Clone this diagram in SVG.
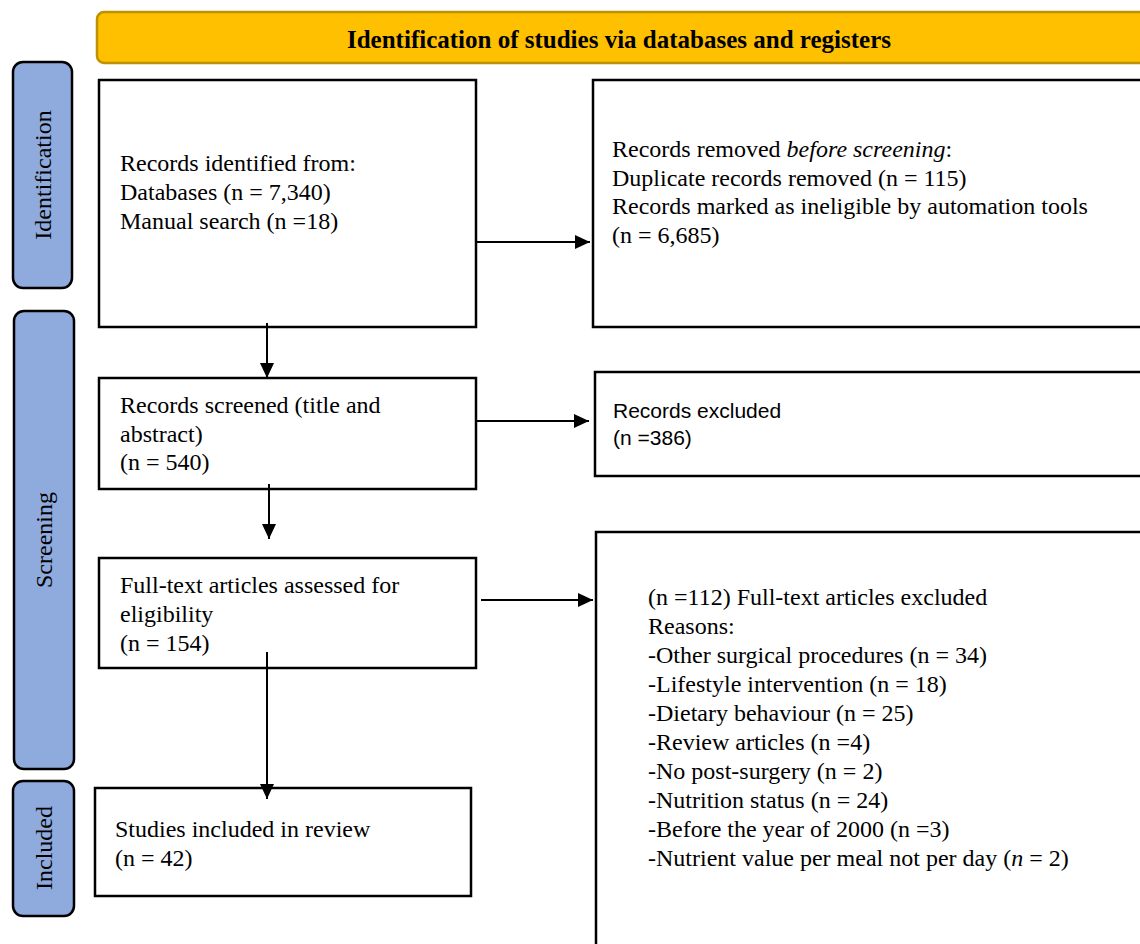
<svg xmlns="http://www.w3.org/2000/svg" width="1140" height="944" viewBox="0 0 1140 944">
<style>
.box{fill:#fff;stroke:#000;stroke-width:2.5}
.side{fill:#8FAADC;stroke:#000;stroke-width:2.5}
.hdr{fill:#FFC000;stroke:#BF9000;stroke-width:2.5}
.t{font-family:"Liberation Serif","Times New Roman",serif;font-size:24px;fill:#000}
.s{font-family:"Liberation Sans",Arial,sans-serif;font-size:21px;fill:#000}
.title{font-family:"Liberation Serif","Times New Roman",serif;font-size:25px;font-weight:bold;fill:#000}
.lbl{font-family:"Liberation Serif","Times New Roman",serif;font-size:24px;fill:#000}
.c{fill:none;stroke:#000;stroke-width:2}
</style>
<defs>
<marker id="ah" markerUnits="userSpaceOnUse" markerWidth="15" markerHeight="14" refX="15" refY="7" orient="auto">
<path d="M0,0 L15,7 L0,14 Z" fill="#000"/>
</marker>
</defs>
<rect width="1140" height="944" fill="#fff"/>

<g id="header">
<rect class="hdr" x="97" y="12" width="1060" height="51" rx="7"/>
<text class="title" x="619" y="48" text-anchor="middle">Identification of studies via databases and registers</text>
</g>

<g id="side-identification">
<rect class="side" x="13" y="62" width="59" height="226" rx="10"/>
<text class="lbl" transform="translate(51,175) rotate(-90)" text-anchor="middle">Identification</text>
</g>
<g id="side-screening">
<rect class="side" x="14" y="311" width="60" height="458" rx="10"/>
<text class="lbl" transform="translate(52,540) rotate(-90)" text-anchor="middle">Screening</text>
</g>
<g id="side-included">
<rect class="side" x="13" y="781" width="61" height="135" rx="10"/>
<text class="lbl" transform="translate(52,848) rotate(-90)" text-anchor="middle">Included</text>
</g>

<g id="records-identified">
<rect class="box" x="99" y="80" width="377" height="247"/>
<text class="t" x="120" y="171">Records identified from:</text>
<text class="t" x="120" y="200">Databases (n = 7,340)</text>
<text class="t" x="120" y="229">Manual search (n =18)</text>
</g>

<g id="records-removed">
<rect class="box" x="593" y="80" width="560" height="247"/>
<text class="t" x="612" y="157">Records removed <tspan font-style="italic">before screening</tspan>:</text>
<text class="t" x="612" y="186">Duplicate records removed (n = 115)</text>
<text class="t" x="612" y="214">Records marked as ineligible by automation tools</text>
<text class="t" x="612" y="243">(n = 6,685)</text>
</g>

<g id="records-screened">
<rect class="box" x="99" y="378" width="377" height="111"/>
<text class="t" x="120" y="413">Records screened (title and</text>
<text class="t" x="120" y="442">abstract)</text>
<text class="t" x="120" y="470">(n = 540)</text>
</g>

<g id="records-excluded">
<rect class="box" x="595" y="372" width="560" height="104"/>
<text class="s" x="613" y="418">Records excluded</text>
<text class="s" x="613" y="445">(n =386)</text>
</g>

<g id="full-text-assessed">
<rect class="box" x="99" y="558" width="377" height="110"/>
<text class="t" x="120" y="593">Full-text articles assessed for</text>
<text class="t" x="120" y="622">eligibility</text>
<text class="t" x="120" y="651">(n = 154)</text>
</g>

<g id="full-text-excluded">
<rect class="box" x="596" y="532" width="560" height="430"/>
<text class="t" x="648" y="605">(n =112) Full-text articles excluded</text>
<text class="t" x="648" y="634">Reasons:</text>
<text class="t" x="648" y="663">-Other surgical procedures (n = 34)</text>
<text class="t" x="648" y="692">-Lifestyle intervention (n = 18)</text>
<text class="t" x="648" y="721">-Dietary behaviour (n = 25)</text>
<text class="t" x="648" y="750">-Review articles (n =4)</text>
<text class="t" x="648" y="779">-No post-surgery (n = 2)</text>
<text class="t" x="648" y="808">-Nutrition status (n = 24)</text>
<text class="t" x="648" y="837">-Before the year of 2000 (n =3)</text>
<text class="t" x="648" y="866">-Nutrient value per meal not per day (<tspan font-style="italic">n</tspan> = 2)</text>
</g>

<g id="studies-included">
<rect class="box" x="95" y="788" width="376" height="108"/>
<text class="t" x="115" y="837">Studies included in review</text>
<text class="t" x="115" y="866">(n = 42)</text>
</g>

<g id="connectors">
<line class="c" x1="477" y1="242" x2="590" y2="242" marker-end="url(#ah)"/>
<line class="c" x1="267" y1="323" x2="267" y2="378" marker-end="url(#ah)"/>
<line class="c" x1="477" y1="421" x2="589" y2="421" marker-end="url(#ah)"/>
<line class="c" x1="269" y1="484" x2="269" y2="539" marker-end="url(#ah)"/>
<line class="c" x1="481" y1="600" x2="593" y2="600" marker-end="url(#ah)"/>
<line class="c" x1="267" y1="652" x2="267" y2="799" marker-end="url(#ah)"/>
</g>
</svg>
